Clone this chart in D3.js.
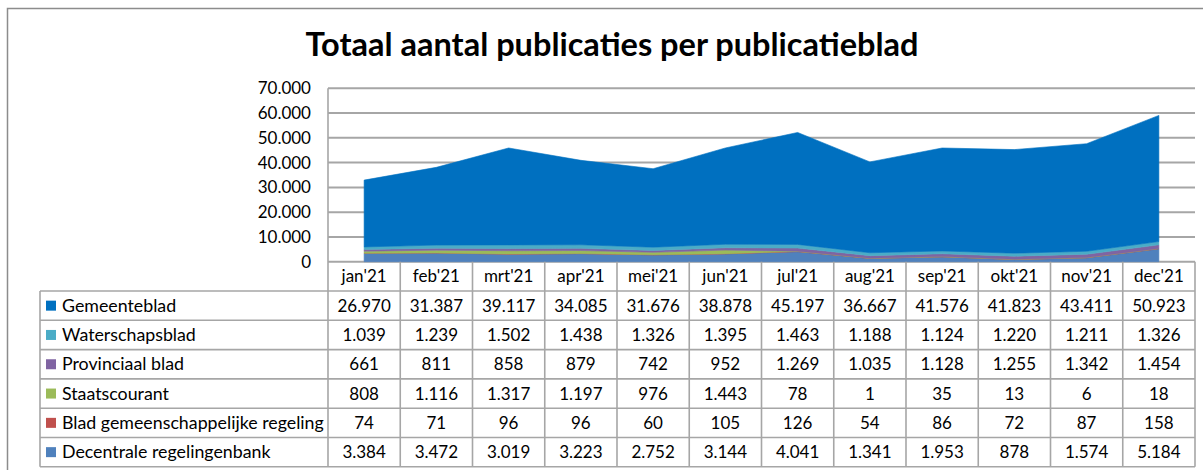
<!DOCTYPE html>
<html>
<head>
<meta charset="utf-8">
<script src="https://cdn.jsdelivr.net/npm/d3@7"></script>
<style>
  body { margin: 0; background: #fff; }
  svg text { font-family: Lato, "Open Sans", sans-serif; fill: #000; }
</style>
</head>
<body>
<div id="chart"></div>
<script>
// months on the x axis
var months = ["jan'21", "feb'21", "mrt'21", "apr'21", "mei'21", "jun'21",
              "jul'21", "aug'21", "sep'21", "okt'21", "nov'21", "dec'21"];

// one array per publicatieblad
var gemeenteblad   = [26970, 31387, 39117, 34085, 31676, 38878, 45197, 36667, 41576, 41823, 43411, 50923];
var waterschapsblad = [1039, 1239, 1502, 1438, 1326, 1395, 1463, 1188, 1124, 1220, 1211, 1326];
var provinciaalBlad = [661, 811, 858, 879, 742, 952, 1269, 1035, 1128, 1255, 1342, 1454];
var staatscourant  = [808, 1116, 1317, 1197, 976, 1443, 78, 1, 35, 13, 6, 18];
var bladGemRegeling = [74, 71, 96, 96, 60, 105, 126, 54, 86, 72, 87, 158];
var decentraleRegBank = [3384, 3472, 3019, 3223, 2752, 3144, 4041, 1341, 1953, 878, 1574, 5184];

var yTicks = [0, 10000, 20000, 30000, 40000, 50000, 60000, 70000];

// table order (top to bottom); stack order is the reverse
var series = [
  { name: "Gemeenteblad", values: gemeenteblad, color: "#0070C0" },
  { name: "Waterschapsblad", values: waterschapsblad, color: "#4BACC6" },
  { name: "Provinciaal blad", values: provinciaalBlad, color: "#8064A2" },
  { name: "Staatscourant", values: staatscourant, color: "#9BBB59" },
  { name: "Blad gemeenschappelijke regeling", values: bladGemRegeling, color: "#C0504D" },
  { name: "Decentrale regelingenbank", values: decentraleRegBank, color: "#4F81BD" }
];

var W = 1203, H = 470;
var plotLeft = 328, plotRight = 1195, plotTop = 88.3, plotBottom = 261.7;
var rowH = 29.3, tableLeft = 40;
var fs = "17px";

var nl = d3.formatLocale({ decimal: ",", thousands: ".", grouping: [3], currency: ["€", ""] });
var fmt = nl.format(",d");

var svg = d3.select("#chart").append("svg")
    .attr("width", W)
    .attr("height", H);

// outer chart frame
svg.append("rect")
    .attr("x", 7.5).attr("y", 8.5)
    .attr("width", W + 10).attr("height", H + 10)
    .attr("fill", "none").attr("stroke", "#8c8c8c").attr("stroke-width", 1.5);

svg.append("text")
    .attr("class", "title")
    .attr("x", 612).attr("y", 56)
    .attr("text-anchor", "middle")
    .style("font-size", "32.5px").style("font-weight", "bold")
    .text("Totaal aantal publicaties per publicatieblad");

var x = d3.scaleBand().domain(months).range([plotLeft, plotRight]);
var y = d3.scaleLinear().domain([0, 70000]).range([plotBottom, plotTop]);
var cx = function(m) { return x(m) + x.bandwidth() / 2; };

// gridlines
svg.append("g").selectAll("line")
  .data(yTicks)
  .enter().append("line")
    .attr("x1", plotLeft).attr("x2", plotRight)
    .attr("y1", function(d) { return y(d); })
    .attr("y2", function(d) { return y(d); })
    .attr("stroke", "#a6a6a6").attr("stroke-width", 2);

// stacked areas
var rows = months.map(function(m, i) {
  var r = { month: m };
  series.forEach(function(s) { r[s.name] = s.values[i]; });
  return r;
});
var keys = series.map(function(s) { return s.name; }).reverse();
var stacked = d3.stack().keys(keys)(rows);
var colorOf = {};
series.forEach(function(s) { colorOf[s.name] = s.color; });

var area = d3.area()
    .x(function(d) { return cx(d.data.month); })
    .y0(function(d) { return y(d[0]); })
    .y1(function(d) { return y(d[1]); });

svg.append("g").selectAll("path")
  .data(stacked)
  .enter().append("path")
    .attr("d", area)
    .attr("fill", function(d) { return colorOf[d.key]; })
    .attr("stroke", function(d) { return colorOf[d.key]; })
    .attr("stroke-width", 0.6);

// y axis labels
var yAxis = svg.append("g")
    .attr("transform", "translate(" + (plotLeft - 17) + ",0)")
    .call(d3.axisLeft(y).tickValues(yTicks).tickSize(0).tickPadding(0).tickFormat(fmt));
yAxis.select(".domain").remove();
yAxis.selectAll("text")
    .style("font-size", fs)
    .style("font-family", "Lato, sans-serif")
    .attr("fill", "#000");

// data table
var grid = svg.append("g").attr("stroke", "#a6a6a6").attr("stroke-width", 1.6);
var tableBottom = plotBottom + rowH * 7;
// plot left border + first column line
grid.append("line").attr("x1", plotLeft).attr("x2", plotLeft)
    .attr("y1", plotTop).attr("y2", tableBottom);
// vertical lines between months
months.forEach(function(m) {
  grid.append("line")
      .attr("x1", x(m) + x.bandwidth()).attr("x2", x(m) + x.bandwidth())
      .attr("y1", plotBottom).attr("y2", tableBottom);
});
grid.append("line").attr("x1", tableLeft).attr("x2", tableLeft)
    .attr("y1", plotBottom + rowH).attr("y2", tableBottom);
d3.range(1, 8).forEach(function(i) {
  grid.append("line")
      .attr("x1", tableLeft).attr("x2", plotRight)
      .attr("y1", plotBottom + rowH * i).attr("y2", plotBottom + rowH * i);
});

// header: months
svg.append("g").selectAll("text")
  .data(months)
  .enter().append("text")
    .attr("x", function(d) { return cx(d); })
    .attr("y", plotBottom + rowH / 2)
    .attr("dy", "0.35em")
    .attr("text-anchor", "middle")
    .style("font-size", fs)
    .text(function(d) { return d; });

// body rows
series.forEach(function(s, r) {
  var rowMid = plotBottom + rowH * (r + 1) + rowH / 2;
  var g = svg.append("g");
  g.append("rect")
      .attr("x", 46).attr("y", rowMid - 5)
      .attr("width", 10).attr("height", 10)
      .attr("fill", s.color);
  g.append("text")
      .attr("x", 62).attr("y", rowMid).attr("dy", "0.35em")
      .style("font-size", "17.8px")
      .text(s.name);
  g.selectAll(".val")
    .data(s.values)
    .enter().append("text")
      .attr("class", "val")
      .attr("x", function(d, i) { return cx(months[i]); })
      .attr("y", rowMid).attr("dy", "0.35em")
      .attr("text-anchor", "middle")
      .style("font-size", fs)
      .text(function(d) { return fmt(d); });
});
</script>
</body>
</html>
